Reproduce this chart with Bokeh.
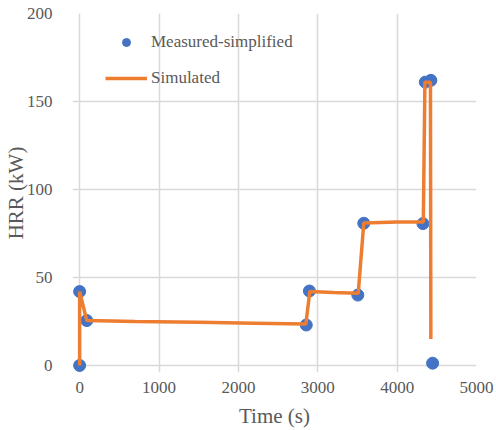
from bokeh.plotting import figure
from bokeh.models import Range1d, FixedTicker, Legend, LegendItem
from bokeh.embed import file_html
from bokeh.resources import INLINE

# Measured heat release rate, simplified to step changes
measured_time = [0, 0, 90, 2855, 2895, 3505, 3580, 4325, 4355, 4425, 4447]
measured_hrr = [0, 42, 25.5, 23, 42.3, 40, 80.8, 80.6, 161, 162, 1.3]

# Simulated heat release rate
simulated_time = [0, 0, 90, 700, 1500, 2200, 2850, 2900, 3200, 3510, 3580, 4000, 4330, 4350, 4420, 4425]
simulated_hrr = [0, 42, 25.5, 25, 24.5, 24, 23.5, 42, 41.5, 41, 81, 81.5, 81.5, 161, 161, 15]

x_ticks = [0, 1000, 2000, 3000, 4000, 5000]
y_ticks = [0, 50, 100, 150, 200]

FONT = "'Liberation Serif', serif"
TEXT = "#595959"
GRID = "#d9d9d9"

# the ranges reach a little past zero so markers sitting on the axes are not cut
p = figure(width=496, height=430, output_backend="svg", toolbar_location=None,
           x_range=Range1d(-90, 5000), y_range=Range1d(-4, 200),
           min_border_left=70, min_border_right=20, min_border_top=13, min_border_bottom=58)
p.outline_line_color = None
p.background_fill_color = "white"
p.border_fill_color = "white"

p.xaxis.ticker = FixedTicker(ticks=x_ticks)
p.yaxis.ticker = FixedTicker(ticks=y_ticks)
for ax in (p.xaxis[0], p.yaxis[0]):
    ax.major_tick_line_color = None
    ax.minor_tick_line_color = None
    ax.axis_line_color = None
    ax.major_label_text_font = FONT
    ax.major_label_text_font_size = "17px"
    ax.major_label_text_color = TEXT
    ax.axis_label_text_font = FONT
    ax.axis_label_text_font_size = "21px"
    ax.axis_label_text_font_style = "normal"
    ax.axis_label_text_color = TEXT

p.xaxis.axis_label = "Time (s)"
p.yaxis.axis_label = "HRR (kW)"
p.xaxis.major_label_standoff = 3
p.xaxis.axis_label_standoff = 8
p.yaxis.major_label_standoff = 14
p.yaxis.axis_label_standoff = -4

p.xgrid.grid_line_color = GRID
p.ygrid.grid_line_color = GRID
p.xgrid.grid_line_width = 1.5
p.ygrid.grid_line_width = 1.5
p.xgrid.bounds = (0, 200)
p.ygrid.bounds = (0, 5000)

pts = p.scatter(measured_time, measured_hrr, size=12, color="#4472C4", line_color="#4472C4")
ln = p.line(simulated_time, simulated_hrr, line_color="#ED7D31", line_width=3.5)

legend = Legend(items=[LegendItem(label="Measured-simplified", renderers=[pts]),
                       LegendItem(label="Simulated", renderers=[ln])],
                location=(33, 284), orientation="vertical")
legend.label_text_font = FONT
legend.label_text_font_size = "17px"
legend.label_text_color = TEXT
legend.glyph_width = 42
legend.glyph_height = 20
legend.label_standoff = 4
legend.spacing = 16
legend.padding = 0
legend.margin = 0
legend.border_line_color = None
legend.background_fill_alpha = 0
p.add_layout(legend, "center")

open("out.html", "w").write(file_html(p, INLINE))
